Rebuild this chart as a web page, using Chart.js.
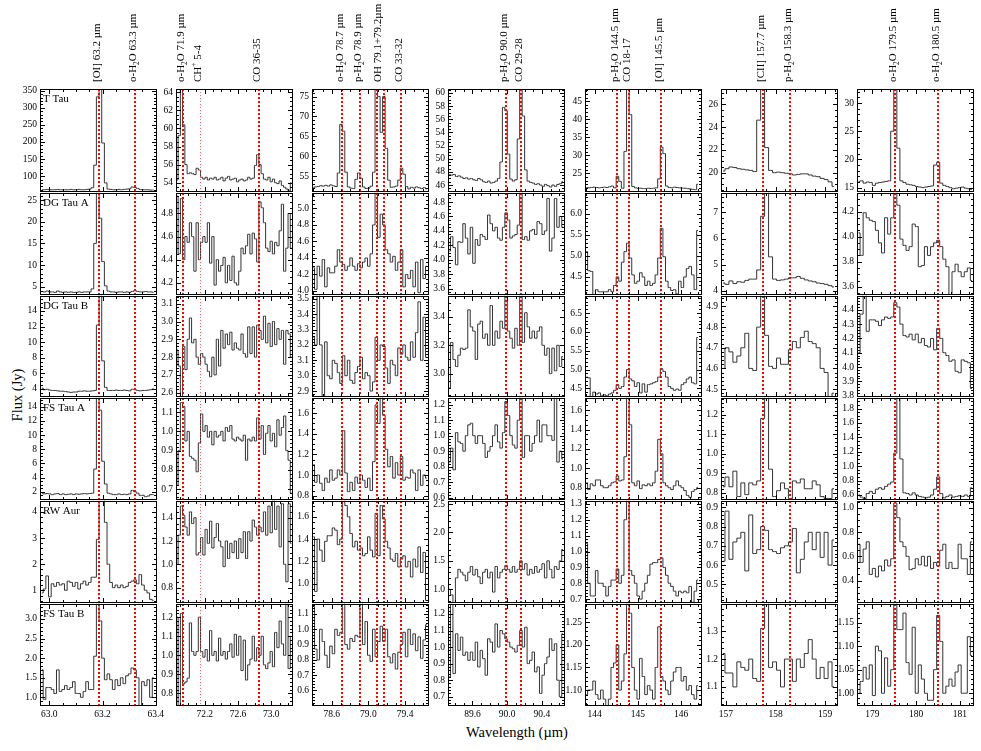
<!DOCTYPE html>
<html><head><meta charset="utf-8">
<script src="https://cdn.jsdelivr.net/npm/chart.js@4.4.1/dist/chart.umd.min.js"></script>
<style>
html,body{margin:0;padding:0;background:#fff;}
#wrap{position:relative;width:981px;height:751px;overflow:hidden;font-family:'Liberation Serif','Times New Roman',serif;}
.pan{position:absolute;}
.ttl{position:absolute;font-size:14.5px;color:#000;white-space:nowrap;}
</style></head><body>
<div id="wrap">
<div class="ttl" style="left:517px;top:732px;transform:translate(-50%,-50%)">Wavelength (µm)</div>
<div class="ttl" style="left:17px;top:395px;transform:translate(-50%,-50%) rotate(-90deg)">Flux (Jy)</div>
</div>
<script>
// ---------- wavelength grids (µm), one per column ----------
const wave63 = [62.972,62.982,62.992,63.002,63.012,63.022,63.032,63.042,63.052,63.062,63.072,63.082,63.092,63.102,63.112,63.122,63.132,63.142,63.152,63.162,63.172,63.182,63.192,63.202,63.212,63.222,63.232,63.242,63.252,63.262,63.272,63.282,63.292,63.302,63.312,63.322,63.332,63.342,63.352,63.362,63.372,63.382,63.392];
const wave72 = [71.866,71.893,71.920,71.947,71.974,72.001,72.028,72.055,72.082,72.109,72.136,72.163,72.190,72.217,72.244,72.271,72.298,72.325,72.352,72.379,72.406,72.433,72.460,72.487,72.514,72.541,72.568,72.595,72.622,72.649,72.676,72.703,72.730,72.757,72.784,72.811,72.838,72.865,72.892,72.919,72.946,72.973,73.000,73.027,73.054,73.081,73.108,73.135,73.162,73.189,73.216,73.243];
const wave79 = [78.399,78.4265,78.454,78.4815,78.509,78.5365,78.564,78.5915,78.619,78.6465,78.674,78.7015,78.729,78.7565,78.784,78.8115,78.839,78.8665,78.894,78.9215,78.949,78.9765,79.004,79.0315,79.059,79.0865,79.114,79.1415,79.169,79.1965,79.224,79.2515,79.279,79.3065,79.334,79.3615,79.389,79.4165,79.444,79.4715,79.499,79.5265,79.554,79.5815,79.609,79.6365];
const wave90 = [89.332,89.3605,89.389,89.4175,89.446,89.4745,89.503,89.5315,89.560,89.5885,89.617,89.6455,89.674,89.7025,89.731,89.7595,89.788,89.8165,89.845,89.8735,89.902,89.9305,89.959,89.9875,90.016,90.0445,90.073,90.1015,90.130,90.1585,90.187,90.2155,90.244,90.2725,90.301,90.3295,90.358,90.3865,90.415,90.4435,90.472,90.5005,90.529,90.5575,90.586,90.6145,90.643];
const wave145 = [143.81,143.87,143.93,143.99,144.05,144.11,144.17,144.23,144.29,144.35,144.41,144.47,144.53,144.59,144.65,144.71,144.77,144.83,144.89,144.95,145.01,145.07,145.13,145.19,145.25,145.31,145.37,145.43,145.49,145.55,145.61,145.67,145.73,145.79,145.85,145.91,145.97,146.03,146.09,146.15,146.21,146.27,146.33,146.39];
const wave158 = [156.94,157.02,157.10,157.18,157.26,157.34,157.42,157.50,157.58,157.66,157.74,157.82,157.90,157.98,158.06,158.14,158.22,158.30,158.38,158.46,158.54,158.62,158.70,158.78,158.86,158.94,159.02,159.10,159.18];
const wave180 = [178.685,178.755,178.825,178.895,178.965,179.035,179.105,179.175,179.245,179.315,179.385,179.455,179.525,179.595,179.665,179.735,179.805,179.875,179.945,180.015,180.085,180.155,180.225,180.295,180.365,180.435,180.505,180.575,180.645,180.715,180.785,180.855,180.925,180.995,181.065,181.135,181.205,181.275];

// ---------- fluxes (Jy) ----------
const tTau63 = [60,60,61,60,60,60,61,60,60,60,60,61,60,60,61,60,60,61,62,66,132,332,420,197,80,62,61,60,60,61,60,61,62,63,68,67,64,61,60,60,60,59,59];
const tTau72 = [54.3,59.2,66,60.4,56,55.0,55.1,55.0,54.9,55.6,55.4,54.6,54.4,54.6,54.3,54.5,54.4,54.6,54.3,54.4,54.6,54.2,54.5,54.7,54.3,54.4,54.5,54.1,54.3,54.4,54.2,54.3,54.6,54.4,54.5,55.9,57.1,56.0,55.0,54.4,54.3,54.6,54.1,54.4,54.0,53.9,54.2,53.7,53.5,53.3,53.1,54.0];
const tTau79 = [52.2,52.3,52.4,52.6,52.5,52.7,52.5,52.8,52.6,52.4,55.8,68,66.3,56,52.3,52.0,51.9,54.2,55.8,54.5,52.3,51.9,52.0,52.5,56,80,75,66,75,62,54,52.2,52.3,52.5,54,57,55.5,52.4,51.8,52.2,52.0,52.3,52.1,51.9,52.1,51.8];
const tTau90 = [47.6,47.5,47.6,47.3,47.4,47.2,47.0,47.1,46.9,47.0,46.8,46.7,47.0,46.8,46.5,46.4,46.6,46.3,46.4,46.6,47.0,49.5,57.8,57.3,50.7,46.9,46.6,46.8,53,62,56.5,48.3,46.6,46.4,46.3,46.1,46.2,46.0,45.8,46.1,45.9,45.7,46.0,45.8,46.1,46.2,46.5];
const tTau145 = [21.1,21.0,21.1,21.2,21.1,21.0,21.1,21.2,21.1,21.3,21.5,21.0,24.2,22.8,20.9,31.1,55,41.3,21.4,21.0,20.9,20.9,20.8,20.8,20.9,20.8,20.9,21.0,23.5,32.3,30.5,21.5,21.1,21.0,21.2,21.1,21.0,20.9,20.9,20.8,20.7,20.6,20.5,22.0];
const tTau158 = [20.15,20.35,20.5,20.45,20.35,20.3,20.25,20.2,20.1,24.6,28,22.2,20.2,20.0,20.05,20.0,19.95,19.9,19.8,19.85,19.9,19.9,19.8,19.7,19.65,19.5,19.4,19.2,18.8];
const tTau180 = [16.1,16.2,15.8,16.0,15.9,15.4,15.8,15.9,16.0,16.1,16.2,25,34,22,16.2,15.9,15.6,15.5,15.4,15.2,15.1,15.0,15.1,15.2,15.3,19.0,19.5,15.8,15.4,15.2,15.0,14.8,14.9,15.0,15.1,14.9,14.8,14.7];

const dgA63 = [3.9,3.8,4.0,3.8,3.8,3.7,4.0,3.8,3.7,3.8,3.7,3.8,3.7,3.7,3.8,3.7,3.8,3.8,3.8,4.5,15.0,30,20.8,10.8,5.2,4.0,3.8,3.8,3.7,3.8,3.8,3.7,3.8,3.7,3.9,4.1,3.9,3.8,3.8,3.9,3.8,3.8,3.7];
const dgA72 = [4.95,4.45,4.93,4.4,4.6,4.55,4.72,4.6,4.3,4.72,4.4,4.55,4.6,4.55,4.72,4.37,4.6,4.18,4.4,4.3,4.35,4.42,4.2,4.35,4.22,4.43,4.2,4.18,4.3,4.5,4.45,4.52,4.62,4.45,4.63,4.58,4.38,4.9,4.85,4.72,4.5,4.47,4.56,4.45,4.55,4.52,4.65,4.88,4.3,4.5,4.8,4.5];
const dgA79 = [4.28,4.02,4.3,4.18,4.38,4.05,4.28,4.22,4.22,4.3,4.5,4.35,4.32,4.25,4.3,4.4,4.3,4.25,4.33,4.28,4.35,4.4,4.3,4.45,4.8,5.25,4.65,4.93,4.8,4.5,4.45,4.35,4.42,4.25,4.35,4.5,4.05,4.2,4.15,4.25,4.05,4.35,3.98,4.38,4.15,4.3];
const dgA90 = [4.12,4.32,4.17,3.93,4.25,4.24,4.5,4.3,4.08,4.45,3.95,4.28,4.2,4.35,4.32,4.28,4.62,4.5,4.4,4.45,4.3,4.27,4.45,4.65,4.55,4.3,4.33,4.35,4.48,4.98,4.28,4.32,4.27,4.4,4.42,4.35,4.53,4.5,4.35,4.4,4.85,4.12,4.3,4.85,4.45,4.6,4.45];
const dgA145 = [5.1,4.65,4.63,4.05,4.2,4.15,4.15,4.15,4.15,4.2,4.15,4.3,4.5,4.4,4.85,5.1,5.3,4.95,4.55,4.35,4.4,4.6,4.5,4.3,4.4,4.3,4.35,4.55,4.95,5.65,4.98,4.4,4.25,4.18,4.2,4.1,4.4,4.25,4.5,4.7,4.75,4.55,4.2,5.6];
const dgA158 = [4.3,4.25,4.38,4.28,4.35,4.33,4.4,4.45,4.45,4.8,6.85,7.9,5.3,4.45,4.4,4.42,4.45,4.5,4.5,4.55,4.48,4.42,4.38,4.35,4.3,4.28,4.25,4.2,4.15];
const dgA180 = [4.03,3.85,4.19,4.15,4.13,4.12,4.05,3.95,3.87,4.15,4.02,4.15,4.38,4.25,3.98,3.93,3.89,3.92,4.1,4.08,3.76,3.77,3.92,3.85,3.92,3.95,3.97,3.92,3.82,3.76,3.5,3.72,3.78,3.72,3.68,3.72,3.75,3.65];

const dgB63 = [4.1,3.9,3.95,3.85,3.8,3.8,3.75,3.7,3.7,3.65,3.6,3.55,3.6,3.6,3.7,3.7,3.75,3.7,3.7,3.75,3.8,12.2,17,7.6,4.2,3.8,3.8,3.8,3.85,3.8,3.8,3.85,3.8,3.75,3.95,3.9,3.8,3.75,3.8,3.8,3.85,3.9,4.0];
const dgB72 = [2.84,2.75,2.55,2.86,2.73,2.9,3.02,2.88,2.9,2.8,2.76,2.82,2.8,2.76,2.72,2.69,2.8,2.7,2.9,2.75,2.95,2.85,2.93,2.87,2.94,2.84,2.88,2.85,2.84,2.93,2.82,2.8,2.97,2.82,2.97,2.8,2.98,2.95,2.9,3.03,2.88,2.99,2.86,3.0,2.87,2.96,2.9,2.95,2.76,2.95,2.93,2.8];
const dgB79 = [3.25,3.2,3.55,3.2,2.85,3.22,3.0,2.98,3.1,3.08,3.02,2.95,3.13,3.0,3.1,2.97,2.95,3.02,3.06,3.12,2.98,3.02,3.0,2.9,2.96,3.25,3.1,3.2,3.19,3.05,2.95,3.1,3.07,3.0,3.18,3.14,3.2,3.12,3.1,3.22,3.12,3.28,3.48,3.1,3.38,3.12];
const dgB90 = [2.9,3.22,3.1,3.05,3.13,3.18,3.17,3.18,3.45,3.33,3.3,3.1,3.35,3.37,3.25,3.28,3.2,3.48,3.2,3.3,3.25,3.37,3.32,3.56,3.3,3.25,3.18,3.32,3.2,3.56,3.22,3.43,3.33,3.25,3.3,3.25,3.3,3.33,3.2,3.13,3.18,3.0,3.18,3.02,3.2,3.05,3.12];
const dgB145 = [4.8,4.78,4.25,4.4,4.35,4.38,4.3,4.33,4.3,4.35,4.38,4.45,4.6,4.5,4.55,4.8,5.0,4.75,4.7,4.55,4.65,4.38,4.62,4.4,4.6,4.62,4.65,4.68,4.8,5.02,4.95,4.8,4.55,4.5,4.45,4.48,4.45,4.6,4.65,4.75,4.8,4.65,4.62,5.85];
const dgB158 = [4.6,4.7,4.68,4.63,4.66,4.7,4.77,4.6,4.59,4.8,4.97,4.76,4.61,4.6,4.65,4.62,4.62,4.69,4.73,4.7,4.75,4.78,4.73,4.72,4.7,4.6,4.58,4.45,4.48];
const dgB180 = [4.1,4.37,4.55,4.25,4.33,4.33,4.32,4.29,4.33,4.35,4.34,4.35,4.45,4.42,4.3,4.22,4.21,4.23,4.19,4.23,4.17,4.2,4.15,4.14,4.2,4.12,4.27,4.2,4.1,4.08,4.04,4.05,3.97,3.96,4.05,4.04,4.03,3.85];

const fsA63 = [1.8,1.7,1.75,1.7,1.6,1.7,1.75,1.6,1.7,1.6,1.65,1.7,1.6,1.7,1.65,1.7,1.75,1.7,1.75,1.8,5.2,16,13.5,6.3,3.1,1.8,1.7,1.6,1.6,1.7,1.6,1.65,1.6,1.7,2.2,2.0,1.8,1.5,1.5,1.3,1.4,1.6,1.6];
const fsA72 = [0.72,0.9,1.15,1.13,0.95,1.0,0.87,0.86,0.85,0.79,0.94,1.09,1.0,1.03,0.97,1.0,0.93,1.0,0.97,0.98,1.0,0.95,1.02,1.0,1.03,0.96,0.95,0.97,0.96,0.95,0.98,0.85,0.96,0.95,0.97,0.95,1.07,0.96,1.03,0.88,0.99,1.03,0.95,0.99,0.92,1.06,0.98,1.02,1.08,0.9,0.85,0.68];
const fsA79 = [1.1,0.93,1.0,0.92,0.85,0.97,0.93,1.05,0.95,0.97,1.05,1.0,1.43,1.02,0.84,0.93,0.85,0.98,0.92,1.0,0.95,0.88,0.97,0.85,1.13,1.68,1.5,1.78,1.58,1.25,1.08,1.18,0.97,1.12,1.0,1.18,0.95,0.98,0.97,1.05,1.02,0.85,1.05,0.9,1.0,0.97];
const fsA90 = [0.83,0.92,0.78,1.02,0.96,0.95,0.9,1.0,1.07,1.08,1.0,0.95,1.0,1.0,0.95,0.86,0.9,0.93,1.0,1.07,0.96,0.92,1.02,1.22,1.13,1.0,0.94,0.92,1.1,1.28,0.86,1.0,1.0,0.9,0.95,1.0,1.1,0.96,1.07,1.07,1.0,1.0,0.97,1.28,0.83,0.9,0.85];
const fsA145 = [0.85,0.78,0.84,0.82,0.88,0.88,0.82,0.8,0.8,0.82,0.85,0.86,0.92,0.87,0.88,1.12,1.78,1.45,0.85,0.82,0.87,0.79,0.83,0.82,0.84,0.82,0.85,0.97,1.3,1.15,0.85,0.82,0.8,0.78,0.82,0.87,0.82,0.8,0.77,0.72,0.7,0.76,0.78,0.8];
const fsA158 = [0.83,0.88,0.83,0.91,0.78,0.85,0.79,0.85,0.84,0.86,1.18,1.3,0.92,0.78,0.81,0.85,0.82,0.77,0.86,0.85,0.87,0.82,0.82,0.86,0.84,0.78,0.77,0.77,0.82];
const fsA180 = [0.6,0.57,0.55,0.62,0.65,0.62,0.68,0.7,0.68,0.72,0.75,0.78,1.18,1.98,1.1,0.63,0.62,0.6,0.63,0.6,0.58,0.57,0.56,0.57,0.6,0.68,0.85,0.62,0.56,0.58,0.6,0.57,0.58,0.59,0.58,0.6,0.58,0.7];

const rwAur63 = [0.9,1.05,1.55,0.75,1.25,1.15,1.3,1.2,1.25,1.0,1.35,1.3,1.15,1.3,1.05,1.25,1.35,1.2,1.3,1.5,1.5,2.95,4.8,4.6,3.6,2.0,1.3,1.1,1.2,1.1,1.2,1.1,1.15,1.3,1.35,1.4,1.25,1.6,1.2,1.0,0.9,0.65,0.6];
const rwAur72 = [1.0,1.25,1.5,1.42,1.32,1.25,1.45,1.35,1.4,1.08,1.1,1.23,1.08,1.3,1.18,1.37,1.14,1.23,1.35,1.2,1.15,0.98,1.2,1.05,1.18,1.1,1.2,1.05,1.22,1.1,1.28,1.05,1.28,1.2,1.38,1.32,1.25,1.32,1.28,1.45,1.25,1.5,1.27,1.55,1.3,1.5,1.15,1.52,1.0,0.85,1.52,1.18];
const rwAur79 = [1.42,0.93,1.4,1.3,1.2,1.38,1.43,1.43,1.5,1.48,1.35,1.4,1.78,1.7,1.6,1.45,1.33,1.38,1.3,1.32,1.25,1.27,1.42,1.3,1.24,1.63,1.25,1.7,1.58,1.38,1.32,1.22,1.2,1.27,1.15,1.22,1.25,1.15,1.2,1.06,1.22,1.15,1.33,1.1,1.28,0.85];
const rwAur90 = [1.0,0.9,0.75,1.2,1.35,1.3,1.25,1.15,1.3,1.4,1.25,1.35,1.22,1.1,1.3,1.35,1.2,1.3,0.95,1.4,1.2,1.3,1.35,1.42,1.35,1.3,1.4,1.3,1.35,1.5,1.35,1.45,1.25,1.35,1.28,1.4,1.3,1.35,1.45,1.2,1.5,1.35,1.2,1.4,1.35,1.5,1.7];
const rwAur145 = [1.05,0.8,0.72,0.72,0.88,0.8,0.8,0.78,0.72,0.78,0.82,0.82,0.89,0.8,0.85,1.2,1.35,0.88,0.85,0.8,0.72,0.7,0.75,0.8,0.85,0.92,0.93,0.93,0.95,0.96,0.9,0.85,0.8,0.78,0.75,0.72,0.75,0.74,0.75,0.74,0.78,0.68,0.75,0.82];
const rwAur158 = [0.62,0.88,0.63,0.72,0.74,0.77,0.57,0.86,0.66,0.68,0.8,0.78,0.68,0.67,0.66,0.69,0.7,0.72,0.79,0.56,0.63,0.72,0.77,0.68,0.77,0.64,0.77,0.6,0.73];
const rwAur180 = [0.7,0.55,0.66,0.72,0.45,0.5,0.43,0.52,0.48,0.57,0.52,0.58,1.04,0.92,0.72,0.68,0.6,0.49,0.5,0.58,0.53,0.6,0.52,0.6,0.5,0.55,0.52,0.65,0.7,0.5,0.55,0.5,0.5,0.7,0.58,0.58,0.45,0.72];

const fsB63 = [1.7,0.95,1.25,1.25,1.2,1.1,1.7,1.15,1.2,1.3,1.2,1.25,1.4,1.1,1.1,1.0,1.15,1.4,1.2,1.2,2.05,3.5,2.95,2.0,1.45,1.6,1.45,1.2,1.45,1.3,1.5,1.35,1.55,1.6,1.75,1.7,1.5,0.75,1.4,1.3,1.45,1.0,1.5];
const fsB72 = [1.2,0.72,1.22,0.85,0.86,0.88,1.17,1.02,1.0,1.02,1.2,1.02,0.99,1.03,0.97,1.13,1.0,1.02,0.97,1.09,1.0,1.02,0.98,1.02,1.06,0.99,1.11,1.0,1.1,0.92,1.08,0.87,0.95,0.98,1.1,0.97,1.04,1.0,1.1,0.95,0.93,0.96,1.02,0.94,1.12,1.04,1.18,1.06,1.0,1.3,0.93,1.1];
const fsB79 = [1.15,0.87,0.8,1.0,0.92,0.83,0.75,0.89,0.84,1.0,0.96,0.98,1.2,0.9,0.87,0.94,0.92,0.96,0.95,1.2,0.9,1.05,0.83,0.79,1.0,0.82,0.92,1.02,0.92,1.0,0.82,0.78,0.84,0.74,0.85,0.9,0.98,0.82,1.0,0.9,0.97,0.86,0.95,0.81,0.93,1.03];
const fsB90 = [0.82,1.26,0.84,1.08,0.98,1.06,0.95,0.97,0.92,0.97,0.92,1.03,0.88,0.98,0.93,0.83,1.05,1.03,0.97,1.14,1.0,1.1,1.08,1.05,1.03,1.0,0.99,0.97,1.01,1.1,1.0,1.12,0.9,0.92,0.97,0.85,0.88,0.72,0.83,0.9,0.94,1.05,0.98,1.02,0.8,0.7,1.08];
const fsB145 = [1.09,1.1,1.1,1.12,1.09,1.08,1.1,1.08,1.06,1.08,1.15,1.16,1.2,1.1,1.12,1.18,1.3,1.27,1.15,1.1,1.08,1.17,1.13,1.09,1.11,1.1,1.08,1.15,1.24,1.13,1.12,1.1,1.09,1.12,1.14,1.15,1.15,1.12,1.13,1.1,1.11,1.09,1.08,1.11];
const fsB158 = [1.22,1.15,1.15,1.1,1.19,1.17,1.16,1.2,1.13,1.12,1.31,1.42,1.17,1.19,1.16,1.1,1.2,1.2,1.12,1.2,1.17,1.22,1.27,1.2,1.13,1.17,1.13,1.19,1.1];
const fsB180 = [1.0,1.025,1.055,1.03,1.06,0.995,1.1,1.09,1.0,1.075,1.015,1.05,1.2,1.135,1.135,1.17,1.065,1.04,1.14,1.0,1.06,1.03,1.0,0.985,0.985,1.05,1.165,1.11,1.0,1.015,1.03,1.015,1.045,1.06,1.0,1.0,1.12,1.08];

// ---------- names, lines, axes ----------
const sources = ['T Tau','DG Tau A','DG Tau B','FS Tau A','RW Aur','FS Tau B'];
const waves = [wave63, wave72, wave79, wave90, wave145, wave158, wave180];
const fluxRows = [
  [tTau63,tTau72,tTau79,tTau90,tTau145,tTau158,tTau180],
  [dgA63,dgA72,dgA79,dgA90,dgA145,dgA158,dgA180],
  [dgB63,dgB72,dgB79,dgB90,dgB145,dgB158,dgB180],
  [fsA63,fsA72,fsA79,fsA90,fsA145,fsA158,fsA180],
  [rwAur63,rwAur72,rwAur79,rwAur90,rwAur145,rwAur158,rwAur180],
  [fsB63,fsB72,fsB79,fsB90,fsB145,fsB158,fsB180]
];
const lineWaves = [[63.185,63.322],[71.94,72.14,72.85],[78.717,78.913,79.098,79.168,79.356],[89.99,90.16],[144.52,144.795,145.53],[157.746,158.3],[179.52,180.5]];
const faintLines = [[],[72.14],[],[],[],[],[]];
const labelWaves = [[63.185,63.322],[71.94,72.14,72.85],[78.717,78.913,79.13,79.356],[89.99,90.16],[144.52,144.795,145.53],[157.746,158.3],[179.52,180.5]];
const labelTexts = [
  ['[OI] 63.2 µm','o-H_2O 63.3 µm'],
  ['o-H_2O 71.9 µm','CH^+ 5-4','CO 36-35'],
  ['o-H_2O 78.7 µm','p-H_2O 78.9 µm','OH 79.1+79.2µm','CO 33-32'],
  ['p-H_2O 90.0 µm','CO 29-28'],
  ['p-H_2O 144.5 µm','CO 18-17','[OI] 145.5 µm'],
  ['[CII] 157.7 µm','p-H_2O 158.3 µm'],
  ['o-H_2O 179.5 µm','o-H_2O 180.5 µm']
];
const xLimits = [[62.965,63.401],[71.854,73.25],[78.385,79.65],[89.318,90.655],[143.78,146.46],[156.9,159.24],[178.65,181.3]];
const xTickValues = [[63.0,63.2,63.4],[72.2,72.6,73.0],[78.6,79.0,79.4],[89.6,90.0,90.4],[144,145,146],[157,158,159],[179,180,181]];
const xTickStep = [0.2,0.4,0.4,0.4,1,1,1];
const yLimits = [
  [[55.5,355],[53.05,64.36],[51.2,76.9],[45.05,60.6],[20.05,48.4],[18.37,27.33],[14.35,32.5]],
  [[3.25,26.7],[4.10,4.98],[3.96,5.19],[3.52,4.93],[4.09,6.495],[3.87,7.75],[3.54,4.35]],
  [[3.05,15.96],[2.58,3.145],[2.866,3.52],[2.84,3.55],[4.29,6.96],[4.465,4.952],[3.795,4.499]],
  [[0.94,15.26],[0.647,1.175],[0.765,1.75],[0.59,1.245],[0.68,1.73],[0.766,1.286],[0.54,1.95]],
  [[0.54,4.43],[0.674,1.546],[0.833,1.744],[0.77,2.56],[0.68,1.32],[0.407,0.934],[0.22,1.06]],
  [[0.805,3.39],[0.739,1.271],[0.505,1.167],[0.65,1.262],[1.067,1.291],[1.035,1.399],[0.975,1.19]]
];
const yTickStep = [
  [50,2,5,2,5,2,5],
  [5,0.2,0.2,0.2,0.5,1,0.2],
  [2,0.1,0.1,0.2,0.5,0.1,0.1],
  [2,0.1,0.2,0.1,0.2,0.1,0.2],
  [1,0.2,0.2,0.5,0.1,0.1,0.2],
  [0.5,0.1,0.1,0.1,0.05,0.1,0.05]
];

// ---------- layout ----------
const colLeft = [40,176,312,448,585,721,857];
const panelW = 116;
const rowEdges = [89,192,295,397,500,603,705];
const FONT = "'Liberation Serif','Times New Roman',serif";
Chart.defaults.font.family = FONT;
Chart.defaults.font.size = 9;
Chart.defaults.color = '#000';

function decimals(step){ const s = String(step); return s.indexOf('.')>=0 ? s.split('.')[1].length : 0; }
function minorOf(step){
  const e = Math.floor(Math.log10(step)+1e-9);
  const lead = Math.round(step/Math.pow(10,e));
  return step/((lead===2||lead===4)?4:5);
}
function stepTicks(min, max, st){
  const out = [];
  for (let k = Math.ceil(min/st - 1e-6); ; k++){
    const v = +(k*st).toFixed(6);
    if (v > max + 1e-9) break;
    out.push({value:v});
  }
  return out;
}
function tickSets(scale){
  const maj = scale.ticks.map(t=>t.value);
  const minors = [];
  if (maj.length>=2){
    const ms = minorOf(maj[1]-maj[0]);
    let v = maj[0];
    while (v-ms >= scale.min-1e-9) v -= ms;
    for (; v <= scale.max+1e-9; v += ms) minors.push(v);
  }
  return {maj, minors};
}
function parseRich(s){
  const out=[]; let buf='';
  for (let i=0;i<s.length;i++){
    const ch=s[i];
    if ((ch==='_'||ch==='^') && i+1<s.length){ if(buf){out.push({t:buf,k:0});buf='';} out.push({t:s[i+1],k:ch==='_'?1:2}); i++; }
    else buf+=ch;
  }
  if(buf) out.push({t:buf,k:0});
  return out;
}
function drawVertical(ctx, s, x, y, size){
  ctx.save(); ctx.translate(x,y); ctx.rotate(-Math.PI/2);
  ctx.textBaseline='alphabetic'; ctx.textAlign='left'; ctx.fillStyle='#000';
  let cx=0;
  for (const p of parseRich(s)){
    const fs = p.k ? size*0.68 : size;
    ctx.font = fs+'px '+FONT;
    const dy = p.k===1 ? size*0.28 : (p.k===2 ? -size*0.42 : 0);
    ctx.fillText(p.t, cx, dy);
    cx += ctx.measureText(p.t).width;
  }
  ctx.restore();
}

const decoPlugin = {
  id:'deco',
  afterDatasetsDraw(chart, args, o){
    const ctx = chart.ctx, a = chart.chartArea, xs = chart.scales.x, ys = chart.scales.y;
    const L = Math.round(a.left), R = Math.round(a.right), T = Math.round(a.top), B = Math.round(a.bottom);
    ctx.save();
    ctx.beginPath(); ctx.rect(L, T, R-L, B-T); ctx.clip();
    o.lines.forEach(w=>{
      const faint = o.faint.indexOf(w)>=0;
      const px = xs.getPixelForValue(w);
      ctx.beginPath();
      ctx.strokeStyle = faint ? 'rgba(255,70,70,0.85)' : '#ff0000';
      ctx.lineWidth = faint ? 1 : 2;
      ctx.setLineDash(faint ? [1,2] : [2,2]);
      const xx = faint ? Math.round(px)+0.5 : Math.round(px);
      ctx.moveTo(xx, T); ctx.lineTo(xx, B); ctx.stroke();
    });
    ctx.restore();

    ctx.save();
    ctx.setLineDash([]);
    ctx.strokeStyle='#000'; ctx.lineWidth=1;
    ctx.strokeRect(L+0.5, T+0.5, R-L, B-T);
    const yt = tickSets(ys), xt = tickSets(xs);
    ctx.beginPath();
    yt.maj.forEach(v=>{ const p=Math.round(ys.getPixelForValue(v))+0.5; ctx.moveTo(L,p); ctx.lineTo(L+5,p); ctx.moveTo(R+1,p); ctx.lineTo(R-4,p); });
    yt.minors.forEach(v=>{ const p=Math.round(ys.getPixelForValue(v))+0.5; ctx.moveTo(L,p); ctx.lineTo(L+3,p); ctx.moveTo(R+1,p); ctx.lineTo(R-2,p); });
    xt.maj.forEach(v=>{ const p=Math.round(xs.getPixelForValue(v))+0.5; ctx.moveTo(p,B+1); ctx.lineTo(p,B-4); ctx.moveTo(p,T); ctx.lineTo(p,T+5); });
    xt.minors.forEach(v=>{ const p=Math.round(xs.getPixelForValue(v))+0.5; ctx.moveTo(p,B+1); ctx.lineTo(p,B-2); ctx.moveTo(p,T); ctx.lineTo(p,T+3); });
    ctx.stroke();
    if (o.name){
      ctx.font='11px '+FONT; ctx.fillStyle='#000'; ctx.textAlign='left'; ctx.textBaseline='alphabetic';
      ctx.fillText(o.name, L+3, T+12.5);
    }
    if (o.labels){
      o.labels.forEach(lb=> drawVertical(ctx, lb.t, Math.round(xs.getPixelForValue(lb.w))+1, T-7, 11));
    }
    ctx.restore();
  }
};

const wrap = document.getElementById('wrap');
for (let r=0;r<6;r++){
  for (let c=0;c<7;c++){
    const L = colLeft[c], T = rowEdges[r], H = rowEdges[r+1]-T;
    const padT = r===0 ? T : 8;
    const padB = r===5 ? 751-rowEdges[6] : 8;
    const padL = 40, padR = 14;
    const div = document.createElement('div'); div.className='pan';
    div.style.left=(L-padL)+'px'; div.style.top=(T-padT)+'px';
    const cv = document.createElement('canvas');
    cv.width = padL+panelW+padR; cv.height = padT+H+padB;
    cv.style.width = cv.width+'px'; cv.style.height = cv.height+'px';
    div.appendChild(cv); wrap.appendChild(div);

    const wl = waves[c], fl = fluxRows[r][c];
    const pts = wl.map((w,i)=>({x:w, y:fl[i]}));
    const ySt = yTickStep[r][c];
    const yDec = decimals(ySt);
    const xDec = decimals(xTickStep[c]);
    const labels = r===0 ? labelWaves[c].map((w,i)=>({w, t:labelTexts[c][i]})) : null;

    new Chart(cv, {
      type:'line',
      data:{datasets:[{data:pts, stepped:'middle', borderColor:'#333333', borderWidth:1, pointRadius:0, fill:false, tension:0}]},
      plugins:[decoPlugin],
      options:{
        responsive:false, animation:false, devicePixelRatio:1, events:[],
        layout:{padding:{top:padT, right:padR, bottom:0, left:0}},
        plugins:{legend:{display:false}, tooltip:{enabled:false},
          deco:{lines:lineWaves[c], faint:faintLines[c], name:c===0?sources[r]:null, labels}},
        scales:{
          x:{type:'linear', min:xLimits[c][0], max:xLimits[c][1],
             grid:{display:false, drawTicks:false}, border:{display:false},
             ticks:{display:r===5, padding:4, autoSkip:false, maxRotation:0, color:'#000', font:{size:9.5},
                    callback:v=>Number(v).toFixed(xDec)},
             afterBuildTicks:s=>{ s.ticks = xTickValues[c].map(v=>({value:v})); },
             afterFit:s=>{ s.height = padB; }},
          y:{type:'linear', min:yLimits[r][c][0], max:yLimits[r][c][1],
             grid:{display:false, drawTicks:false}, border:{display:false},
             ticks:{padding:3, autoSkip:false, color:'#000', font:{size:9.5},
                    callback:v=>Number(v).toFixed(yDec)},
             afterBuildTicks:s=>{ s.ticks = stepTicks(yLimits[r][c][0], yLimits[r][c][1], ySt); },
             afterFit:s=>{ s.width = padL; }}
        }
      }
    });
  }
}
</script>
</body></html>
